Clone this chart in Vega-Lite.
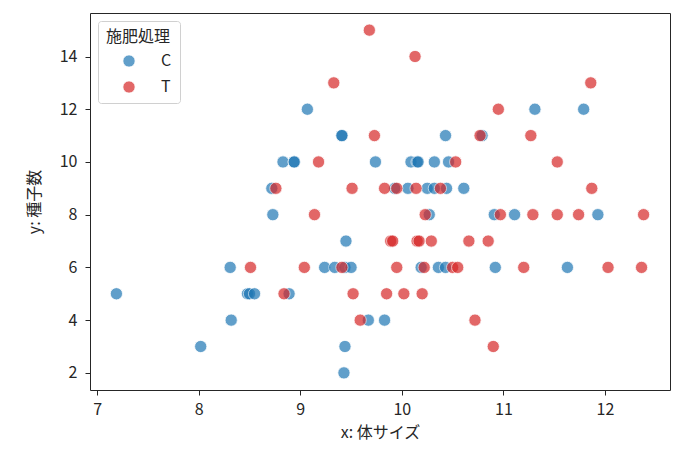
{
  "$schema": "https://vega.github.io/schema/vega-lite/v6.json",
  "width": 580,
  "height": 377,
  "autosize": {"type": "none"},
  "padding": {"left": 90, "top": 13, "right": 26, "bottom": 61},
  "background": "white",
  "data": {
    "values": [
      {"x": 9.43, "y": 2, "f": "C"},
      {"x": 8.02, "y": 3, "f": "C"},
      {"x": 9.44, "y": 3, "f": "C"},
      {"x": 8.32, "y": 4, "f": "C"},
      {"x": 9.67, "y": 4, "f": "C"},
      {"x": 9.83, "y": 4, "f": "C"},
      {"x": 7.19, "y": 5, "f": "C"},
      {"x": 8.48, "y": 5, "f": "C"},
      {"x": 8.5, "y": 5, "f": "C"},
      {"x": 8.55, "y": 5, "f": "C"},
      {"x": 8.89, "y": 5, "f": "C"},
      {"x": 8.31, "y": 6, "f": "C"},
      {"x": 9.24, "y": 6, "f": "C"},
      {"x": 9.34, "y": 6, "f": "C"},
      {"x": 9.44, "y": 6, "f": "C"},
      {"x": 9.5, "y": 6, "f": "C"},
      {"x": 10.19, "y": 6, "f": "C"},
      {"x": 10.36, "y": 6, "f": "C"},
      {"x": 10.43, "y": 6, "f": "C"},
      {"x": 10.92, "y": 6, "f": "C"},
      {"x": 11.63, "y": 6, "f": "C"},
      {"x": 9.45, "y": 7, "f": "C"},
      {"x": 8.73, "y": 8, "f": "C"},
      {"x": 10.27, "y": 8, "f": "C"},
      {"x": 10.91, "y": 8, "f": "C"},
      {"x": 11.11, "y": 8, "f": "C"},
      {"x": 11.93, "y": 8, "f": "C"},
      {"x": 8.72, "y": 9, "f": "C"},
      {"x": 9.93, "y": 9, "f": "C"},
      {"x": 10.06, "y": 9, "f": "C"},
      {"x": 10.25, "y": 9, "f": "C"},
      {"x": 10.32, "y": 9, "f": "C"},
      {"x": 10.44, "y": 9, "f": "C"},
      {"x": 10.61, "y": 9, "f": "C"},
      {"x": 8.83, "y": 10, "f": "C"},
      {"x": 8.94, "y": 10, "f": "C"},
      {"x": 8.94, "y": 10, "f": "C"},
      {"x": 9.74, "y": 10, "f": "C"},
      {"x": 10.09, "y": 10, "f": "C"},
      {"x": 10.15, "y": 10, "f": "C"},
      {"x": 10.16, "y": 10, "f": "C"},
      {"x": 10.32, "y": 10, "f": "C"},
      {"x": 10.46, "y": 10, "f": "C"},
      {"x": 9.41, "y": 11, "f": "C"},
      {"x": 9.41, "y": 11, "f": "C"},
      {"x": 10.43, "y": 11, "f": "C"},
      {"x": 10.79, "y": 11, "f": "C"},
      {"x": 9.07, "y": 12, "f": "C"},
      {"x": 11.31, "y": 12, "f": "C"},
      {"x": 11.79, "y": 12, "f": "C"},
      {"x": 10.9, "y": 3, "f": "T"},
      {"x": 9.59, "y": 4, "f": "T"},
      {"x": 10.72, "y": 4, "f": "T"},
      {"x": 8.84, "y": 5, "f": "T"},
      {"x": 9.52, "y": 5, "f": "T"},
      {"x": 9.85, "y": 5, "f": "T"},
      {"x": 10.02, "y": 5, "f": "T"},
      {"x": 10.2, "y": 5, "f": "T"},
      {"x": 8.51, "y": 6, "f": "T"},
      {"x": 9.04, "y": 6, "f": "T"},
      {"x": 9.41, "y": 6, "f": "T"},
      {"x": 9.95, "y": 6, "f": "T"},
      {"x": 10.22, "y": 6, "f": "T"},
      {"x": 10.5, "y": 6, "f": "T"},
      {"x": 10.55, "y": 6, "f": "T"},
      {"x": 11.2, "y": 6, "f": "T"},
      {"x": 12.03, "y": 6, "f": "T"},
      {"x": 12.36, "y": 6, "f": "T"},
      {"x": 9.89, "y": 7, "f": "T"},
      {"x": 9.91, "y": 7, "f": "T"},
      {"x": 10.15, "y": 7, "f": "T"},
      {"x": 10.17, "y": 7, "f": "T"},
      {"x": 10.29, "y": 7, "f": "T"},
      {"x": 10.66, "y": 7, "f": "T"},
      {"x": 10.85, "y": 7, "f": "T"},
      {"x": 9.14, "y": 8, "f": "T"},
      {"x": 10.23, "y": 8, "f": "T"},
      {"x": 10.97, "y": 8, "f": "T"},
      {"x": 11.29, "y": 8, "f": "T"},
      {"x": 11.53, "y": 8, "f": "T"},
      {"x": 11.74, "y": 8, "f": "T"},
      {"x": 12.38, "y": 8, "f": "T"},
      {"x": 8.76, "y": 9, "f": "T"},
      {"x": 9.51, "y": 9, "f": "T"},
      {"x": 9.83, "y": 9, "f": "T"},
      {"x": 9.95, "y": 9, "f": "T"},
      {"x": 10.14, "y": 9, "f": "T"},
      {"x": 10.38, "y": 9, "f": "T"},
      {"x": 11.87, "y": 9, "f": "T"},
      {"x": 9.18, "y": 10, "f": "T"},
      {"x": 10.53, "y": 10, "f": "T"},
      {"x": 11.53, "y": 10, "f": "T"},
      {"x": 9.73, "y": 11, "f": "T"},
      {"x": 10.77, "y": 11, "f": "T"},
      {"x": 11.27, "y": 11, "f": "T"},
      {"x": 10.95, "y": 12, "f": "T"},
      {"x": 9.33, "y": 13, "f": "T"},
      {"x": 11.86, "y": 13, "f": "T"},
      {"x": 10.13, "y": 14, "f": "T"},
      {"x": 9.68, "y": 15, "f": "T"}
    ]
  },
  "mark": {
    "type": "point",
    "shape": "circle",
    "filled": true,
    "size": 150,
    "opacity": 0.7,
    "stroke": "white",
    "strokeWidth": 0.8,
    "strokeOpacity": 1
  },
  "encoding": {
    "x": {
      "field": "x",
      "type": "quantitative",
      "title": "x: 体サイズ",
      "scale": {"domain": [6.93, 12.64], "nice": false, "zero": false},
      "axis": {"values": [7, 8, 9, 10, 11, 12], "format": "d", "labelPadding": 6, "titlePadding": 7}
    },
    "y": {
      "field": "y",
      "type": "quantitative",
      "title": "y: 種子数",
      "scale": {"domain": [1.35, 15.65], "nice": false, "zero": false},
      "axis": {"values": [2, 4, 6, 8, 10, 12, 14], "format": "d", "labelPadding": 8, "titlePadding": 17}
    },
    "color": {
      "field": "f",
      "type": "nominal",
      "title": "施肥処理",
      "scale": {"domain": ["C", "T"], "range": ["#1f77b4", "#d62728"]},
      "legend": {
        "orient": "top-left",
        "offset": 8,
        "symbolType": "circle",
        "symbolSize": 150,
        "symbolOpacity": 0.7,
        "symbolStrokeColor": "white",
        "symbolStrokeWidth": 0.8,
        "symbolOffset": 15,
        "fillColor": "white",
        "strokeColor": "#d0d0d0",
        "cornerRadius": 3,
        "padding": 8,
        "titleFontSize": 16,
        "titleFontWeight": "normal",
        "titleColor": "#262626",
        "titlePadding": 8,
        "labelFontSize": 16,
        "labelColor": "#262626",
        "labelOffset": 24,
        "rowPadding": 10
      }
    }
  },
  "config": {
    "font": "Noto Sans CJK JP",
    "view": {"stroke": "#262626", "strokeWidth": 1},
    "axis": {
      "grid": false,
      "domain": false,
      "ticks": true,
      "tickColor": "#262626",
      "tickSize": 5,
      "labelFontSize": 16,
      "labelColor": "#262626",
      "titleFontSize": 16,
      "titleFontWeight": "normal",
      "titleColor": "#262626"
    }
  }
}
